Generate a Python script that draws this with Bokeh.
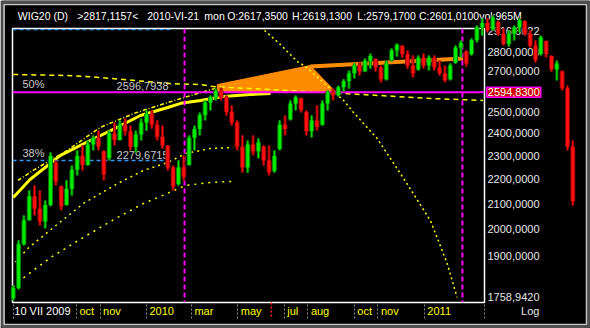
import pandas as pd
from bokeh.plotting import figure
from bokeh.models import Range1d, FixedTicker, Span, ColumnDataSource
from bokeh.core.properties import value
from bokeh.embed import file_html
from bokeh.resources import INLINE

# ---------------- data (weekly OHLC) ----------------
open_ = [1755,1790,1945,2035,2130,2080,2030,2095,2270,2170,2095,2160,2240,2300,2260,2350,2380,2320,2290,2400,
         2370,2440,2410,2340,2395,2450,2490,2440,2385,2345,2250,2180,2250,2260,2380,2420,2485,2545,2570,2600,
         2570,2500,2450,2340,2250,2350,2320,2340,2280,2235,2330,2440,2465,2540,2565,2500,2410,2460,2440,2540,
         2595,2580,2620,2650,2690,2730,2700,2755,2765,2720,2660,2760,2810,2835,2790,2730,2710,2770,2730,2770,
         2720,2690,2660,2745,2825,2805,2790,2865,2935,2960,2925,2965,2900,2845,2900,2935,2970,2900,2835,2790,
         2860,2780,2710,2700,2615,2340]
high_ = [1798,1959,2054,2154,2174,2154,2113,2315,2280,2174,2195,2258,2324,2346,2368,2391,2413,2324,2413,2450,
         2460,2469,2436,2413,2469,2507,2507,2460,2436,2346,2258,2280,2302,2391,2436,2497,2555,2579,2613,2618,
         2579,2531,2460,2391,2368,2391,2377,2346,2346,2324,2460,2483,2555,2579,2569,2507,2483,2531,2555,2604,
         2613,2628,2660,2704,2741,2746,2767,2793,2767,2730,2756,2820,2847,2836,2809,2783,2783,2793,2783,2783,
         2756,2730,2741,2836,2863,2809,2874,2946,2985,2985,3002,2974,2929,2918,2946,2985,2974,2918,2863,2890,
         2863,2783,2756,2704,2628,2368]
low_ = [1748,1785,1940,2035,2054,2015,2004,2090,2174,2074,2093,2133,2216,2237,2258,2324,2324,2195,2280,2346,
        2368,2391,2324,2315,2368,2413,2422,2368,2332,2237,2154,2174,2195,2258,2324,2391,2460,2507,2555,2555,
        2483,2436,2324,2228,2228,2302,2289,2258,2216,2228,2324,2391,2460,2507,2497,2391,2382,2413,2436,2507,
        2555,2574,2599,2613,2664,2679,2699,2714,2699,2644,2654,2751,2777,2772,2714,2669,2704,2714,2704,2704,
        2679,2644,2654,2740,2772,2725,2783,2852,2890,2907,2918,2890,2836,2830,2863,2907,2890,2825,2746,2783,
        2772,2699,2654,2604,2324,2093]
close_ = [1790,1945,2035,2130,2080,2030,2095,2300,2190,2090,2160,2240,2300,2260,2350,2380,2340,2220,2400,2370,
          2440,2410,2340,2395,2450,2490,2440,2385,2345,2250,2170,2250,2210,2380,2420,2485,2545,2570,2600,2570,
          2500,2450,2340,2250,2350,2320,2360,2280,2230,2300,2440,2420,2540,2570,2510,2410,2460,2430,2540,2595,
          2580,2620,2650,2690,2730,2700,2755,2780,2720,2660,2740,2810,2840,2790,2730,2690,2770,2730,2770,2720,
          2690,2655,2730,2825,2850,2740,2865,2935,2960,2920,2990,2900,2845,2900,2935,2975,2900,2835,2760,2880,
          2790,2710,2740,2615,2340,2110]
week_dates = pd.date_range("2009-07-10", periods=len(close_), freq="7D")

# drawing-tool objects (date, value)
fib_levels = [2596.7938, 2279.6715]
fib_names = ["50%", "38%"]
fib_top = 2923.0
last_price = 2594.83
fib_line_end = "2010-02-01"

arc_thick_d = ["2009-07-10","2009-08-01","2009-09-10","2009-10-19","2009-11-15","2009-12-24","2010-01-29",
               "2010-02-15","2010-03-13","2010-04-12","2010-05-17","2010-06-13"]
arc_thick_v = [2125,2199,2302,2368,2413,2483,2521,2541,2555,2574,2584,2589]
arc_dashdot_d = ["2009-07-16","2009-08-05","2009-09-19","2009-11-01","2009-12-15","2010-01-29","2010-03-09","2010-04-01"]
arc_dashdot_v = [2195,2237,2324,2427,2492,2545,2589,2614]
arc_flat_d = ["2009-07-10","2009-09-19","2009-11-01","2010-02-01","2010-03-13","2010-03-30","2010-09-17",
              "2010-11-04","2011-01-13","2011-03-19"]
arc_flat_v = [2684,2679,2669,2638,2633,2623,2589,2579,2564,2555]
arc_big_d = ["2010-06-05","2010-06-26","2010-07-18","2010-07-29","2010-09-17","2010-09-30","2010-10-31",
             "2010-12-04","2011-01-09","2011-01-31","2011-02-13"]
arc_big_v = [2918,2841,2751,2725,2555,2497,2377,2207,2034,1875,1758]
arc_low_a_d = ["2009-07-13","2009-07-29","2009-09-01","2009-10-10","2009-11-24","2009-12-28","2010-01-29",
               "2010-02-21","2010-03-26","2010-04-25"]
arc_low_a_v = [1879,1929,2008,2101,2182,2237,2271,2310,2332,2337]
arc_low_b_d = ["2009-07-10","2009-07-19","2009-08-28","2009-10-10","2009-11-24","2009-12-28","2010-01-19",
               "2010-02-21","2010-03-26","2010-04-25"]
arc_low_b_v = [1792,1816,1896,1970,2046,2101,2129,2174,2187,2191]
orange_fill_d = ["2010-04-04","2010-04-04","2010-08-04","2010-09-07"]
orange_fill_v = [2594.83,2633,2730,2594.83]
orange_line_d = ["2010-08-04","2011-02-21"]
orange_line_v = [2725,2767]
marker_dates = ["2010-02-20","2011-02-20"]
cursor_date = "2010-06-14"

x_tick_dates = ["2009-07-10","2009-10-01","2009-11-01","2010-01-01","2010-03-01","2010-05-01","2010-07-01",
                "2010-08-01","2010-10-01","2010-11-01","2011-01-01","2011-03-21"]
x_tick_labels = ["10 VII 2009", "oct", "nov", "2010", "mar", "may", "jul", "aug", "oct", "nov", "2011", ""]
y_ticks = [1758.942, 1900, 2000, 2100, 2200, 2300, 2400, 2500, 2700, 2800, 2916.6022]
y_labels = ["1758,9420","1900,0000","2000,0000","2100,0000","2200,0000","2300,0000","2400,0000",
            "2500,0000","2700,0000","2800,0000","2916,6022"]

header_parts = ["WIG20 (D)", ">2817,1157<", "2010-VI-21", "mon", "O:2617,3500", "H:2619,1300",
                "L:2579,1700", "C:2601,0100", "vol:965M"]
header_dates = ["2009-07-16","2009-10-02","2010-01-02","2010-03-18","2010-04-17","2010-07-11",
                "2010-10-05","2010-12-25","2011-03-14"]

D = pd.to_datetime
FONT = value("Liberation Sans")

X0, X1 = D("2009-07-09"), D("2011-03-21")
Y0, Y1 = 1741, 2929
# positions of the text rows / window border outside the frame (in axis units)
HEADER_Y, BOTTOM_TEXT_Y, TICK_END_Y = 3002, 1714, 1689
PRICE_BOX_X, LOG_X = D("2011-03-24"), D("2011-05-08")

p = figure(width=590, height=328, x_axis_type="datetime", y_axis_type="log",
           y_axis_location="right", x_range=Range1d(X0, X1), y_range=Range1d(Y0, Y1),
           toolbar_location=None, output_backend="svg",
           min_border_left=12, min_border_right=106, min_border_top=28, min_border_bottom=26,
           background_fill_color="black", border_fill_color="black",
           outline_line_color="white", outline_line_width=1.5)
p.grid.visible = False

# bottom axis: dotted ticks only
xa = p.xaxis[0]
xa.ticker = FixedTicker(ticks=[D(d).value // 10**6 for d in x_tick_dates])
xa.axis_line_color = None
xa.major_tick_in = 0
xa.major_tick_out = 16
xa.major_tick_line_color = "#8a8a8a"
xa.major_tick_line_dash = "2 2"
xa.minor_tick_line_color = None
xa.major_label_text_font_size = "1px"
xa.major_label_text_alpha = 0
xa.major_label_standoff = 0

ya = p.yaxis[0]
ya.ticker = FixedTicker(ticks=y_ticks)
ya.major_label_overrides = {(int(t) if float(t).is_integer() else t): l for t, l in zip(y_ticks, y_labels)}
ya.axis_line_color = None
ya.major_tick_line_color = None
ya.minor_tick_line_color = None
ya.major_tick_out = 0
ya.major_tick_in = 0
ya.major_label_standoff = 3
ya.major_label_text_color = "#e6e6e6"
ya.major_label_text_font = "Liberation Sans"
ya.major_label_text_font_size = "11px"

# drawing tools
p.patch(D(orange_fill_d), orange_fill_v, color="#ff8c00")
p.line(D(orange_line_d), orange_line_v, color="#ff8c00", line_width=4)
p.line(D(arc_thick_d), arc_thick_v, color="#ffff00", line_width=3)
p.line(D(arc_dashdot_d), arc_dashdot_v, color="#ffff00", line_width=1.5, line_dash="4 2 1 2")
p.line(D(arc_flat_d), arc_flat_v, color="#ffff00", line_width=1.5, line_dash="5 4")
p.line(D(arc_big_d), arc_big_v, color="#ffff00", line_width=1.5, line_dash="2 3")
p.line(D(arc_low_a_d), arc_low_a_v, color="#ffff00", line_width=1.5, line_dash="2 4")
p.line(D(arc_low_b_d), arc_low_b_v, color="#ffff00", line_width=1.5, line_dash="2 5")

p.add_layout(Span(location=last_price, dimension="width", line_color="#ff00ff", line_width=2))
p.segment(x0=[X0] * 2, y0=[fib_levels[1], fib_top], x1=[D(fib_line_end)] * 2,
          y1=[fib_levels[1], fib_top], line_color="#3399ff", line_width=1.5, line_dash="4 3")
for md in marker_dates:
    p.add_layout(Span(location=D(md), dimension="height", line_color="#ff00ff",
                      line_width=2, line_dash="5 3"))

p.text(x=[D("2009-07-22")] * 2, y=fib_levels, text=fib_names, text_font=FONT,
       text_font_size="11px", text_color="#c8c8c8", text_baseline="bottom", y_offset=-2)
p.text(x=[D("2010-01-30")] * 2, y=fib_levels,
       text=[f"{v:.4f}".replace(".", ",") for v in fib_levels], text_font=FONT,
       text_font_size="11px", text_color="#c8c8c8", text_baseline="bottom",
       text_align="right", y_offset=-2)

# texts outside the frame (overlay level is not clipped)
p.text(x=D(header_dates), y=[HEADER_Y] * len(header_parts), text=header_parts, text_font=FONT,
       text_font_size="10.5px", text_color="white", text_baseline="middle", level="overlay")
p.text(x=D(x_tick_dates[:1]), y=[BOTTOM_TEXT_Y], text=x_tick_labels[:1], text_font=FONT,
       text_font_size="11px", text_color="white", text_baseline="middle", x_offset=1, level="overlay")
p.text(x=D(x_tick_dates[1:-1]), y=[BOTTOM_TEXT_Y] * (len(x_tick_dates) - 2), text=x_tick_labels[1:-1],
       text_font=FONT, text_font_size="11px", text_color="#ffff00", text_baseline="middle",
       x_offset=3, level="overlay")
p.segment(x0=[D(cursor_date)], y0=[Y0], x1=[D(cursor_date)], y1=[TICK_END_Y], line_color="#ff2020",
          line_width=1.5, line_dash="2 2", level="overlay")
p.text(x=[LOG_X], y=[BOTTOM_TEXT_Y], text=["Log"], text_font=FONT, text_font_size="11px",
       text_color="#e6e6e6", text_baseline="middle", level="overlay")

# candles
df = pd.DataFrame(dict(date=week_dates, open=open_, high=high_, low=low_, close=close_))
up = df["close"] >= df["open"]
df["color"] = ["#00ee00" if u else "#ff1010" for u in up]
df["edge"] = ["#007a00" if u else "#8a0000" for u in up]
src = ColumnDataSource(df)
p.segment("date", "high", "date", "low", source=src, line_color="edge", line_width=3, level="overlay")
p.segment("date", "open", "date", "close", source=src, line_color="edge", line_width=5,
          line_cap="butt", level="overlay")
p.segment("date", "high", "date", "low", source=src, line_color="color", line_width=1, level="overlay")
p.segment("date", "open", "date", "close", source=src, line_color="color", line_width=3,
          line_cap="butt", level="overlay")

# price box on the right axis
p.text(x=[PRICE_BOX_X], y=[last_price], text=["2594,8300"], text_font=FONT, text_font_size="11px",
       text_color="white", text_baseline="middle", background_fill_color="#cc0000",
       border_line_color="#ff00ff", border_line_width=1.5, padding=1, level="overlay")

# window bevel
p.quad(left=[D("2009-06-26")], right=[D("2011-08-05")], top=[3080], bottom=[1662], fill_alpha=0,
       line_color="#505050", line_width=3, level="overlay")
p.quad(left=[D("2009-06-28")], right=[D("2011-08-02")], top=[3065], bottom=[1670], fill_alpha=0,
       line_color="#c8c8c8", line_width=1.5, level="overlay")

open("out.html", "w").write(file_html(p, INLINE))
